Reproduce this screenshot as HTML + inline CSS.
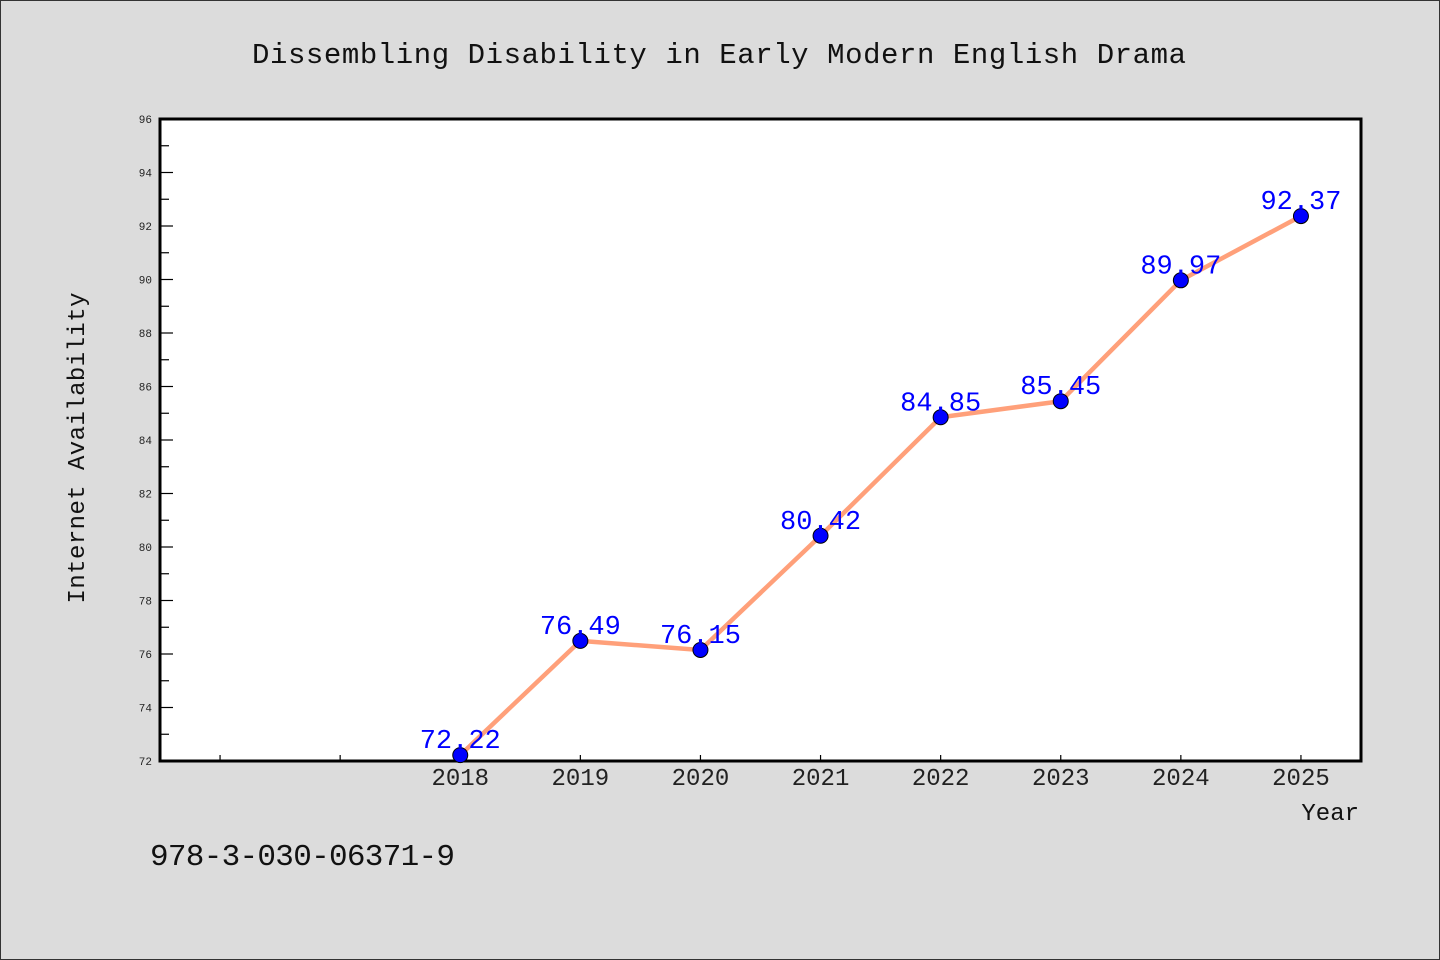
<!DOCTYPE html>
<html><head><meta charset="utf-8"><style>
html,body{margin:0;padding:0;background:#dcdcdc;}
svg{display:block;}
text{font-family:"Liberation Mono","DejaVu Sans Mono",monospace;}
</style></head><body>
<svg id="chart" width="1440" height="960" viewBox="0 0 1440 960" xmlns="http://www.w3.org/2000/svg">
<rect x="0.5" y="0.5" width="1439" height="959" fill="#dcdcdc" stroke="#333" stroke-width="1"/>
<text x="719" y="63" text-anchor="middle" font-size="29" fill="#111" textLength="934" lengthAdjust="spacing">Dissembling Disability in Early Modern English Drama</text>
<rect x="160" y="119" width="1201" height="642" fill="#fff"/>
<g id="yticks"></g><g id="xticks"></g>
<path d="M160 761 V119 H1361 V761 Z" fill="none" stroke="#000" stroke-width="3"/>
<polyline id="line" fill="none" stroke="#ffa07a" stroke-width="4.5" stroke-linejoin="round"/>
<g id="points"></g><g id="labels"></g>
<text x="0" y="0" transform="translate(84,448) rotate(-90)" text-anchor="middle" font-size="24" fill="#111" textLength="311" lengthAdjust="spacing">Internet Availability</text>
<text x="1359" y="820" text-anchor="end" font-size="24" fill="#111">Year</text>
<text x="150" y="865" font-size="31" fill="#111" textLength="305" lengthAdjust="spacing">978-3-030-06371-9</text>
</svg>
<script>
const years = [2018, 2019, 2020, 2021, 2022, 2023, 2024, 2025];
const values = [72.22, 76.49, 76.15, 80.42, 84.85, 85.45, 89.97, 92.37];
const labels = ["72.22", "76.49", "76.15", "80.42", "84.85", "85.45", "89.97", "92.37"];
const yTicks = [72, 74, 76, 78, 80, 82, 84, 86, 88, 90, 92, 94, 96];
const xMinorTicks = [2016, 2017];

const NS = "http://www.w3.org/2000/svg";
const X0 = 160, X1 = 1361, Y0 = 761, Y1 = 119;
const xMin = 2015.5, xMax = 2025.5, yMin = 72, yMax = 96;
const xs = v => X0 + (v - xMin) / (xMax - xMin) * (X1 - X0);
const ys = v => Y0 - (v - yMin) / (yMax - yMin) * (Y0 - Y1);
function mk(tag, attrs, parent) {
  const el = document.createElementNS(NS, tag);
  for (const k in attrs) el.setAttribute(k, attrs[k]);
  parent.appendChild(el);
  return el;
}
const yg = document.getElementById('yticks');
yTicks.forEach((t, i) => {
  const y = ys(t);
  const tk = mk('line', {x1: X0, x2: X0 + 13, y1: y, y2: y, stroke: '#000', 'stroke-width': 1.2}, yg);
  
  
  const lb = mk('text', {x: 152, y: y + 4, 'text-anchor': 'end', 'font-size': 11, fill: '#222'}, yg);
  lb.textContent = t;
  
  
  if (i < yTicks.length - 1) {
    const ym = ys(t + 1);
    const mn = mk('line', {x1: X0, x2: X0 + 9, y1: ym, y2: ym, stroke: '#000', 'stroke-width': 1.2}, yg);
    
    
  }
});
const xg = document.getElementById('xticks');
xMinorTicks.forEach(t => {
  const x = xs(t);
  const tk = mk('line', {x1: x, x2: x, y1: Y0, y2: Y0 - 6, stroke: '#000', 'stroke-width': 1.2}, xg);
  
  
});
years.forEach(t => {
  const x = xs(t);
  const tk = mk('line', {x1: x, x2: x, y1: Y0, y2: Y0 - 6, stroke: '#000', 'stroke-width': 1.2}, xg);
  
  
  const lb = mk('text', {x: x, y: 785, 'text-anchor': 'middle', 'font-size': 24, fill: '#222', 'font-family': '"Liberation Sans", sans-serif'}, xg);
  lb.textContent = t;
  
  
});
document.getElementById('line').setAttribute('points', years.map((yr, i) => xs(yr) + ',' + ys(values[i])).join(' '));
const pg = document.getElementById('points'), lg = document.getElementById('labels');
years.forEach((yr, i) => {
  const cx = xs(yr), cy = ys(values[i]);
  const c = mk('circle', {cx: cx, cy: cy, r: 7.5, fill: '#0000ff', stroke: '#000', 'stroke-width': 1}, pg);
  
  
  const t = mk('text', {x: cx, y: cy - 7, 'text-anchor': 'middle', 'font-size': 27, fill: '#0000ff', 'font-family': '"Liberation Sans", sans-serif'}, lg);
  t.textContent = labels[i];
  
  
});
</script>
</body></html>
